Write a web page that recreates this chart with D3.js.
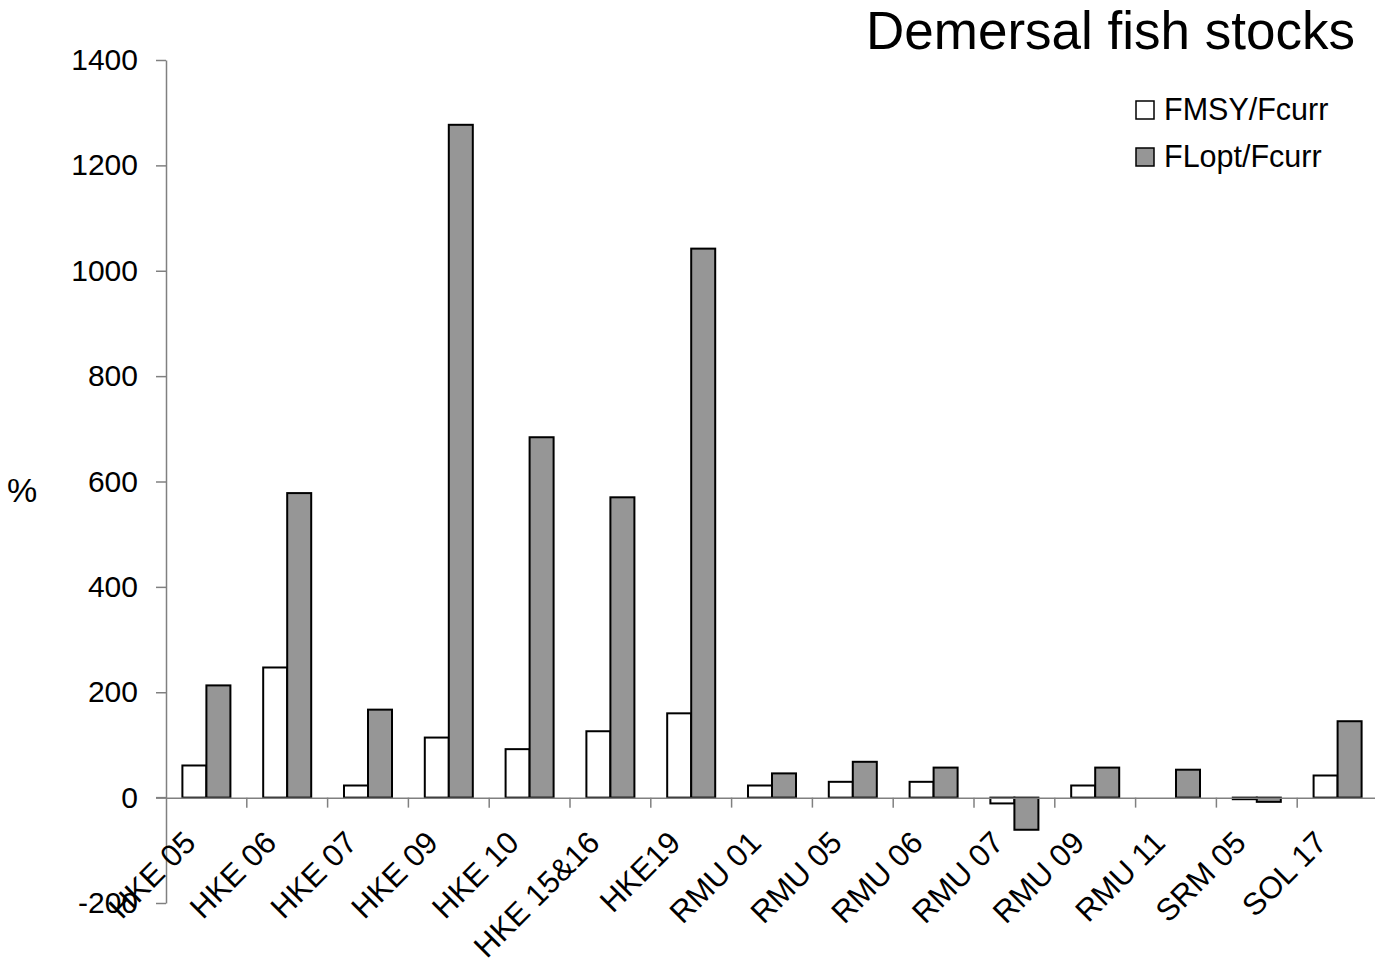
<!DOCTYPE html>
<html><head><meta charset="utf-8">
<script src="https://cdn.jsdelivr.net/npm/d3@7"></script>
<style>body{margin:0;background:#fff;}svg{display:block;font-family:"Liberation Sans",Arial,sans-serif;}</style>
</head><body>
<svg id="c" width="1375" height="965"></svg>
<script>
const categories = ["HKE 05","HKE 06","HKE 07","HKE 09","HKE 10","HKE 15&16","HKE19","RMU 01","RMU 05","RMU 06","RMU 07","RMU 09","RMU 11","SRM 05","SOL 17"];
const seriesNames = ["FMSY/Fcurr","FLopt/Fcurr"];
const fmsy = [61, 247, 23, 114, 92, 126, 160, 23, 30, 30, -11, 23, 0, -3, 42];
const flopt = [213, 578, 167, 1277, 684, 570, 1042, 46, 68, 57, -61, 57, 53, -8, 145];
const yTicks = [-200, 0, 200, 400, 600, 800, 1000, 1200, 1400];
const colors = ["#ffffff", "#969696"];

(function(){
const svg = d3.select("#c");
const mLeft = 166, mRight = 166 + 15*80.8, mTop = 60, mBottom = 903;
const y = d3.scaleLinear().domain([-200, 1400]).range([mBottom, mTop]);
const x0 = d3.scaleBand().domain(categories).range([mLeft, mRight]).padding(0);
const x1 = d3.scaleBand().domain(seriesNames).range([0, x0.bandwidth()]).paddingInner(0).paddingOuter(0.683);

// y axis
const yAxis = d3.axisLeft(y).tickValues(yTicks).tickSize(10).tickSizeOuter(0).tickPadding(18).tickFormat(d => String(d));
const gy = svg.append("g").attr("transform", `translate(${mLeft},0)`).call(yAxis);
gy.select(".domain").attr("stroke", "#808080").attr("stroke-width", 1.5);
gy.selectAll(".tick line").attr("stroke", "#808080").attr("stroke-width", 1.5);
gy.selectAll(".tick text").attr("font-size", 30).attr("fill", "#000").attr("font-family", "Liberation Sans, Arial, sans-serif");

// bars
const data = categories.map((c, i) => ({c, vals: [fmsy[i], flopt[i]]}));
const g = svg.append("g");
data.forEach(d => {
  d.vals.forEach((v, j) => {
    if (v === 0) return;
    g.append("rect")
      .attr("x", x0(d.c) + x1(seriesNames[j]))
      .attr("width", x1.bandwidth())
      .attr("y", y(Math.max(0, v)))
      .attr("height", Math.abs(y(v) - y(0)))
      .attr("fill", colors[j])
      .attr("stroke", "#000")
      .attr("stroke-width", 2);
  });
});

// x axis at zero
const xAxis = d3.axisBottom(x0).tickSize(0).tickFormat("");
const gx = svg.append("g").attr("transform", `translate(0,${y(0)})`).call(xAxis);
gx.select(".domain").attr("stroke", "#808080").attr("stroke-width", 1.5);
svg.append("line").attr("x1", mLeft - 10).attr("x2", mLeft).attr("y1", y(0)).attr("y2", y(0)).attr("stroke", "#808080").attr("stroke-width", 1.5);
const bounds = categories.map(c => x0(c)).concat([mRight]);
svg.append("g").selectAll("line").data(bounds.slice(1)).join("line")
  .attr("x1", d => d).attr("x2", d => d)
  .attr("y1", y(0)).attr("y2", y(0) + 10)
  .attr("stroke", "#808080").attr("stroke-width", 1.5);

// category labels
svg.append("g").selectAll("text").data(categories).join("text")
  .attr("transform", d => `translate(${x0(d) + x0.bandwidth()/2 - 9},${y(0) + 47}) rotate(-45)`)
  .attr("text-anchor", "end")
  .attr("font-size", 31)
  .text(d => d);

// y label
svg.append("text").attr("x", 22).attr("y", 502).attr("text-anchor", "middle").attr("font-size", 34).text("%");

// title
svg.append("text").attr("x", 1355).attr("y", 49).attr("text-anchor", "end").attr("font-size", 53).text("Demersal fish stocks");

// legend
const lg = svg.append("g");
seriesNames.forEach((s, i) => {
  const yy = 101 + i * 47;
  lg.append("rect").attr("x", 1136).attr("y", yy).attr("width", 18).attr("height", 18)
    .attr("fill", colors[i]).attr("stroke", "#000").attr("stroke-width", 1.5);
  lg.append("text").attr("x", 1164).attr("y", yy + 19).attr("font-size", 30.5).text(s);
});
})();
</script>
</body></html>
